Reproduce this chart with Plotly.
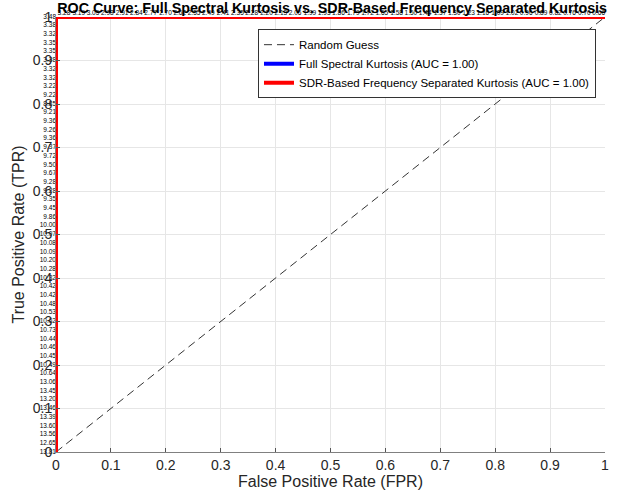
import plotly.graph_objects as go

# ---- data ----
guess_x = [0, 1]
guess_y = [0, 1]

# ROC points: vertical segment on FPR = 0, then horizontal segment on TPR = 1
left_tpr = [0.00, 0.02, 0.04, 0.06, 0.08, 0.10, 0.12, 0.14, 0.16, 0.18,
            0.20, 0.22, 0.24, 0.26, 0.28, 0.30, 0.32, 0.34, 0.36, 0.38,
            0.40, 0.42, 0.44, 0.46, 0.48, 0.50, 0.52, 0.54, 0.56, 0.58,
            0.60, 0.62, 0.64, 0.66, 0.68, 0.70, 0.72, 0.74, 0.76, 0.78,
            0.80, 0.82, 0.84, 0.86, 0.88, 0.90, 0.92, 0.94, 0.96, 0.98, 1.00]
left_thr = ["13.81", "12.65", "13.56", "13.60", "13.39", "13.46", "13.20", "13.45", "13.06", "10.64",
            "10.49", "10.45", "10.46", "10.44", "10.73", "10.62", "10.53", "10.48", "10.42", "10.42",
            "10.32", "10.28", "10.20", "10.09", "10.08", "10.07", "10.00", "9.86", "9.45", "9.35",
            "9.28", "9.28", "9.67", "9.50", "9.72", "9.37", "9.36", "9.26", "9.36", "9.21",
            "8.85", "9.22", "3.22", "3.32", "3.32", "3.38", "3.35", "3.35", "3.32", "3.38", "3.48"]

top_fpr = [0.026, 0.053, 0.079, 0.105, 0.132, 0.158, 0.184, 0.211, 0.237, 0.263,
           0.289, 0.316, 0.342, 0.368, 0.395, 0.421, 0.447, 0.474, 0.500, 0.526,
           0.553, 0.579, 0.605, 0.632, 0.658, 0.684, 0.711, 0.737, 0.763, 0.789,
           0.816, 0.842, 0.868, 0.895, 0.921, 0.947, 0.974, 1.000]
top_thr = ["3.28", "3.19", "3.05", "2.98", "2.91", "2.84", "2.77", "2.70", "2.62", "2.55",
           "2.49", "2.41", "2.35", "2.28", "2.20", "2.13", "2.06", "1.99", "1.93", "1.86",
           "1.79", "1.72", "1.65", "1.58", "1.50", "1.44", "1.37", "1.30", "1.23", "1.16",
           "1.09", "1.02", "0.96", "0.89", "0.82", "0.76", "0.70", "0.66"]

roc_fpr = [0.0] * len(left_tpr) + top_fpr
roc_tpr = left_tpr + [1.0] * len(top_fpr)

tick_vals = [0, 0.1, 0.2, 0.3, 0.4, 0.5, 0.6, 0.7, 0.8, 0.9, 1]
tick_text = ["0", "0.1", "0.2", "0.3", "0.4", "0.5", "0.6", "0.7", "0.8", "0.9", "1"]

FONT = "Liberation Sans, Arial, sans-serif"

fig = go.Figure()
fig.add_trace(go.Scatter(x=guess_x, y=guess_y, mode="lines", name="Random Guess",
                         line=dict(color="#333333", width=1, dash="8px,5px")))
fig.add_trace(go.Scatter(x=roc_fpr, y=roc_tpr, mode="lines",
                         name="Full Spectral Kurtosis (AUC = 1.00)",
                         line=dict(color="#0000ff", width=4)))
fig.add_trace(go.Scatter(x=roc_fpr, y=roc_tpr, mode="lines",
                         name="SDR-Based Frequency Separated Kurtosis (AUC = 1.00)",
                         line=dict(color="#ff0000", width=4)))
fig.add_trace(go.Scatter(x=[0.0] * len(left_tpr), y=left_tpr, mode="text",
                         text=left_thr, textposition="middle left", showlegend=False,
                         cliponaxis=False, hoverinfo="skip",
                         textfont=dict(family=FONT, size=6.5, color="#000000")))
fig.add_trace(go.Scatter(x=top_fpr, y=[1.0] * len(top_fpr), mode="text",
                         text=top_thr, textposition="top left", showlegend=False,
                         cliponaxis=False, hoverinfo="skip",
                         textfont=dict(family=FONT, size=6.5, color="#000000")))

axis_common = dict(range=[0, 1], tickvals=tick_vals, ticktext=tick_text,
                   showgrid=True, gridcolor="#e6e6e6", gridwidth=1,
                   zeroline=False, showline=True, linecolor="#808080", linewidth=1,
                   ticks="inside", ticklen=4, tickcolor="#555555",
                   tickfont=dict(family=FONT, size=14, color="#262626"))

fig.update_layout(
    width=622, height=495,
    margin=dict(l=56, r=17, t=17, b=43, autoexpand=False),
    paper_bgcolor="white", plot_bgcolor="white",
    title=dict(text="<b>ROC Curve: Full Spectral Kurtosis vs. SDR-Based Frequency Separated Kurtosis</b>",
               x=0.534, xanchor="center", y=0.993, yanchor="top",
               font=dict(family=FONT, size=14.3, color="#000000")),
    xaxis=dict(**axis_common,
               title=dict(text="False Positive Rate (FPR)", standoff=3,
                          font=dict(family=FONT, size=16, color="#262626"))),
    yaxis=dict(**axis_common,
               title=dict(text="True Positive Rate (TPR)", standoff=4,
                          font=dict(family=FONT, size=16, color="#262626"))),
    legend=dict(x=0.9836, xanchor="right", y=0.972, yanchor="top",
                bgcolor="white", bordercolor="#333333", borderwidth=1,
                font=dict(family=FONT, size=11.5, color="#000000"),
                tracegroupgap=0, itemwidth=30),
    showlegend=True,
)

fig.write_html("out.html", config={"displayModeBar": False},
               post_script="document.body.style.margin='0';document.body.style.padding='0';"
                           "document.documentElement.style.overflow='hidden';")
